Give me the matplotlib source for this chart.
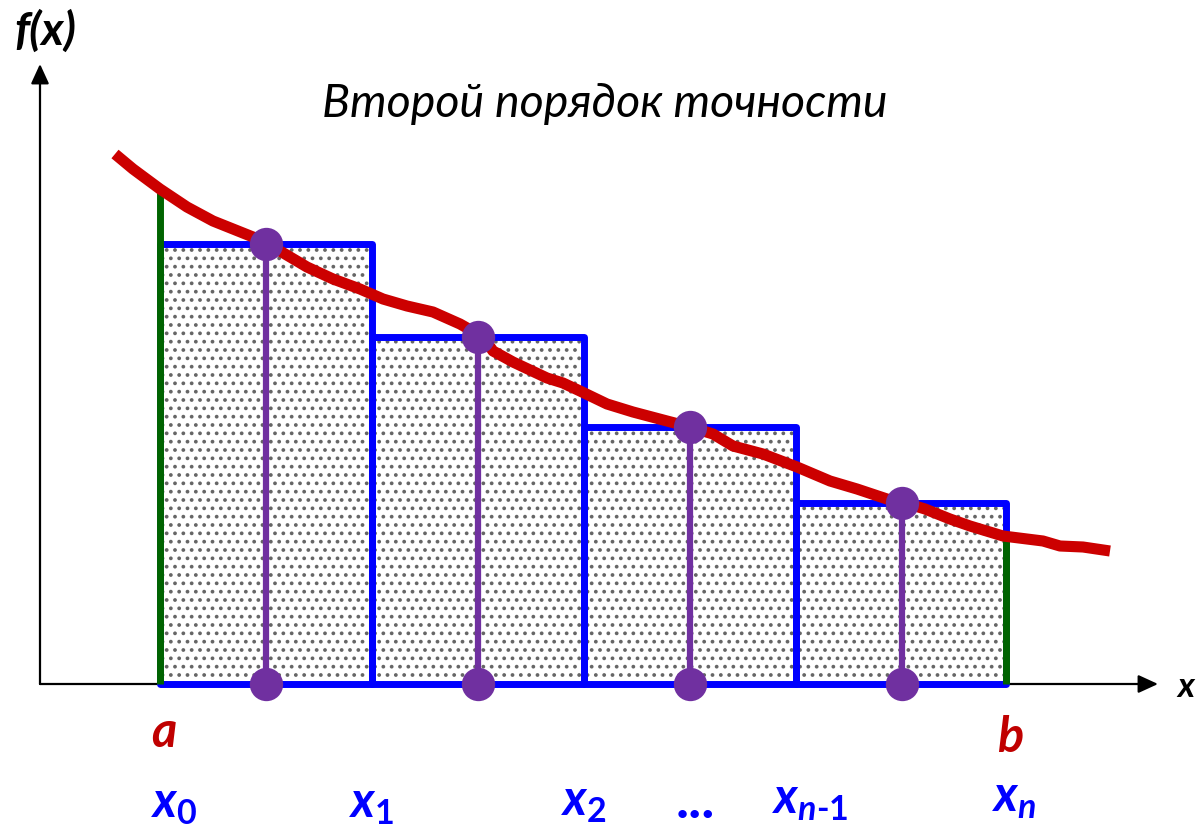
import matplotlib
matplotlib.use("Agg")
import matplotlib.pyplot as plt
from matplotlib.patches import FancyArrowPatch

plt.rcParams['font.family'] = ['Lato', 'DejaVu Sans']
plt.rcParams['mathtext.fontset'] = 'custom'
plt.rcParams['mathtext.it'] = 'Lato:italic:bold'
plt.rcParams['mathtext.rm'] = 'Lato:bold'
plt.rcParams['mathtext.bf'] = 'Lato:bold'
plt.rcParams['hatch.linewidth'] = 1.5

# ---- data (x in picture units, f measured up from the x axis) ----
edges = [160, 372, 584, 796, 1006]          # x0 ... xn
mids = [266, 478, 690, 902]                  # midpoints
heights = [440, 347, 257, 181]               # f at midpoints
curve_x = [115, 133, 160, 187, 213, 233, 253, 280, 307, 333, 360, 383, 407, 433,
           460, 483, 493, 513, 547, 563, 580, 607, 633, 667, 690, 713, 733, 763,
           797, 830, 857, 887, 902, 925, 950, 970, 1003, 1043, 1060, 1083, 1110]
curve_y = [530, 515, 495, 477, 463, 455, 447, 433, 417, 405, 395, 385, 378, 372,
           360, 347, 333, 322, 306, 301, 293, 280, 272, 263, 257, 250, 238, 230,
           217, 203, 195, 185, 182, 175, 165, 158, 148, 143, 138, 137, 133]
fa = 495
fb = 148
node_labels = [r'$x_0$', r'$x_1$', r'$x_2$', r'$x_{n\text{-}1}$', r'$x_n$']
title = 'Второй порядок точности'

fig = plt.figure(figsize=(11.97, 8.29), dpi=100)
ax = fig.add_axes([0, 0, 1, 1])
ax.set_xlim(0, 1197)
ax.set_ylim(-144, 685)
ax.axis('off')

# axes arrows
ax.add_patch(FancyArrowPatch((40, 0), (1158, 0), arrowstyle='-|>,head_length=1.2,head_width=0.55',
                             mutation_scale=10, lw=1.6, color='black', zorder=2,
                             shrinkA=0, shrinkB=0))
ax.add_patch(FancyArrowPatch((40, 0), (40, 620), arrowstyle='-|>,head_length=1.2,head_width=0.55',
                             mutation_scale=10, lw=1.6, color='black', zorder=2,
                             shrinkA=0, shrinkB=0))

# rectangles: hatch layer then blue outline
widths = [edges[i + 1] - edges[i] for i in range(len(mids))]
ax.bar(edges[:-1], heights, width=widths, align='edge', facecolor='white',
       edgecolor='#666666', linewidth=0, hatch='..', zorder=3)
ax.bar(edges[:-1], heights, width=widths, align='edge', fill=False,
       edgecolor='#0000FF', linewidth=5, zorder=3.5, joinstyle='round')

# green boundary lines
ax.plot([edges[0], edges[0]], [0, fa], color='#006400', lw=5, zorder=4, solid_capstyle='butt')
ax.plot([edges[-1], edges[-1]], [0, fb], color='#006400', lw=5, zorder=4, solid_capstyle='butt')

# purple midpoint lines
for m, h in zip(mids, heights):
    ax.plot([m, m], [0, h], color='#7030A0', lw=4.5, zorder=5)

# red curve
ax.plot(curve_x, curve_y, color='#CC0000', lw=8, zorder=6, solid_capstyle='butt',
        solid_joinstyle='round')

# purple dots
ax.plot(mids, heights, 'o', ms=24, color='#7030A0', zorder=7, mec='none')
ax.plot(mids, [0] * len(mids), 'o', ms=24, color='#7030A0', zorder=7, mec='none')

# texts
ax.text(605, 685 - 117, title, fontsize=33.5, style='italic', ha='center', va='baseline')
ax.text(45, 685 - 45, 'f(x)', fontsize=33, style='italic', weight='bold', ha='center', va='baseline')
ax.text(1186, 685 - 697, 'x', fontsize=25, style='italic', weight='bold', ha='center', va='baseline')
ax.text(164, 685 - 747, 'a', fontsize=35, style='italic', weight='bold', color='#C00000',
        ha='center', va='baseline')
ax.text(1010, 685 - 752, 'b', fontsize=35, style='italic', weight='bold', color='#C00000',
        ha='center', va='baseline')

label_x = [174, 372, 584, 810, 1014]
label_base = [817, 817, 815, 813, 811]
for lx, lb, lab in zip(label_x, label_base, node_labels):
    ax.text(lx, 685 - lb, lab, fontsize=35, color='#0000FF', ha='center', va='baseline')
ax.text(695, 685 - 818, '...', fontsize=40, weight='bold', color='#0000FF', ha='center', va='baseline')

fig.savefig('out.png', dpi=100)
